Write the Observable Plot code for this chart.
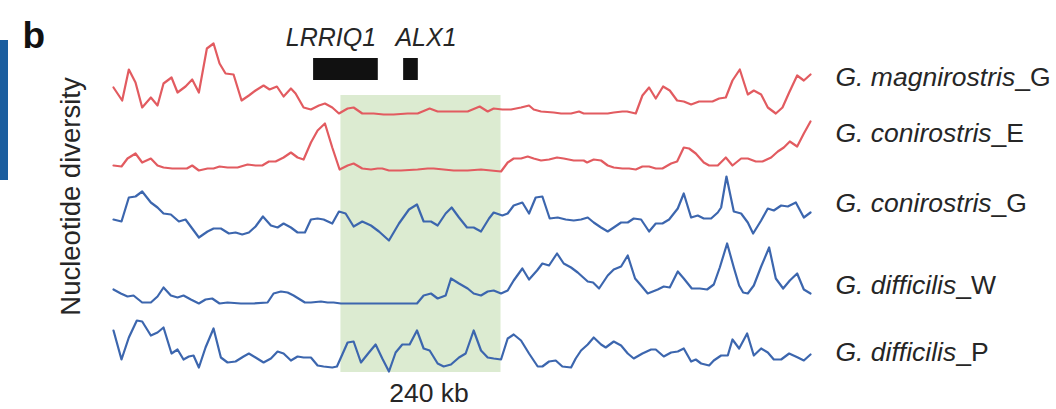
<!DOCTYPE html>
<html><head><meta charset="utf-8">
<script src="https://cdn.jsdelivr.net/npm/d3@7"></script>
<script src="https://cdn.jsdelivr.net/npm/@observablehq/plot@0.6"></script>
<style>
html,body{margin:0;padding:0;background:#fff;}
#wrap{position:relative;width:1056px;height:409px;overflow:hidden;background:#fff;}
#panelEdge{position:absolute;left:0;top:40px;width:8px;height:140px;background:#1b5e9f;}
</style></head><body>
<div id="wrap"><div id="panelEdge"></div></div>
<script>
// ---- data (position in kb, nucleotide diversity in relative units) ----
const seriesNames = ["G. magnirostris_G", "G. conirostris_E", "G. conirostris_G", "G. difficilis_W", "G. difficilis_P"];

const magX = [0,13,23,33,43,56,66,75,87,96,108,118,128,140,150,159,168,180,192,203,213,225,234,245,255,266,273,285,296,308,317,328,338,351,360,373,390,405,420,441,456,474,486,501,531,549,561,570,583,596,611,623,630,641,660,671,686,698,705,716,731,741,750,763,770,783,793,803,813,824,834,845,855,866,878,888,898,908,918,928,939,951,960,971,981,993,1003,1013,1025,1035,1045];
const magV = [28,15,46,33,8,18,10,32,38,23,29,36,23,67,72,52,42,41,15,20,25,30,26,29,19,27,22,8,6,10,12,8,2,7,8,2,2,1,1,2,2,7,4,4,4,9,4,7,6,6,8,10,6,4,3,2,2,4,2,2,2,2,3,4,4,2,20,28,17,29,25,15,14,11,14,14,14,17,18,35,46,21,25,21,8,2,8,23,40,35,41];

const conEX = [0,12,21,33,43,56,66,75,88,101,110,118,128,141,150,159,171,186,201,213,223,233,243,255,266,276,285,296,306,317,328,339,351,360,373,386,396,403,413,431,456,471,480,495,510,531,551,566,581,591,600,611,621,630,641,653,665,675,690,705,710,720,731,741,750,763,773,783,793,803,813,823,836,845,855,863,873,885,893,906,918,928,941,951,963,973,986,996,1005,1014,1025,1035,1045];
const conEV = [7,6,14,19,10,14,7,5,4,4,4,7,2,4,4,6,5,5,8,7,7,11,11,15,20,15,13,30,42,49,25,3,7,9,4,3,4,4,2,2,3,4,4,3,2,2,3,2,1,10,14,14,16,14,12,13,15,14,12,12,10,13,12,7,5,4,4,3,6,6,4,4,9,11,25,24,19,10,7,7,15,7,14,14,11,11,15,21,25,31,26,39,51];

const conGX = [0,12,23,33,43,56,66,75,86,98,108,118,128,141,150,161,173,183,193,203,213,224,236,246,255,266,276,287,296,306,315,328,338,348,360,373,386,398,413,428,443,455,465,476,486,498,507,518,530,540,551,563,570,583,591,600,613,623,633,643,654,666,678,690,701,711,720,731,741,750,761,771,780,791,803,813,823,833,846,855,866,876,885,896,906,911,919,930,941,951,959,971,981,990,1001,1011,1023,1035,1045];
const conGV = [23,21,45,46,51,40,35,29,28,21,23,14,5,11,14,14,9,10,8,10,16,26,17,15,19,15,10,10,23,24,23,19,31,29,16,21,17,11,2,19,33,38,21,21,17,29,35,25,15,15,11,24,30,27,29,37,40,29,45,46,24,25,23,22,23,25,20,15,11,15,20,20,24,23,11,19,19,23,34,49,25,27,24,24,30,35,66,31,29,20,9,22,34,32,37,36,40,25,30];

const difWX = [0,11,21,30,43,56,66,75,86,96,105,116,128,138,148,159,171,191,210,231,240,251,261,270,287,296,311,321,330,341,371,401,431,455,465,476,486,498,506,518,531,540,551,561,570,581,591,600,613,623,635,643,653,665,675,686,696,711,719,728,741,750,761,771,782,791,801,816,825,834,846,855,867,879,890,900,909,920,930,938,944,951,960,971,983,993,1004,1014,1025,1035,1045];
const difWV = [16,12,9,10,3,3,9,18,10,8,10,6,2,6,7,2,3,2,2,3,12,14,13,10,3,3,4,3,3,2,2,2,2,2,10,12,7,10,27,22,17,12,10,14,15,12,15,25,37,26,35,42,40,52,42,38,33,24,23,17,30,36,39,50,27,20,12,16,19,18,34,27,17,17,16,21,38,62,38,20,13,12,20,39,58,27,17,25,32,16,12];

const difPX = [0,12,23,35,43,56,66,75,87,96,105,113,120,128,138,150,161,171,183,195,203,213,225,236,246,255,266,276,285,296,306,315,328,335,341,351,360,371,383,393,403,413,423,433,444,455,465,474,486,495,506,518,528,540,551,561,570,581,591,600,611,623,636,643,653,663,673,686,693,701,711,720,731,738,750,761,771,780,793,806,813,825,836,846,855,866,873,881,893,900,911,921,928,938,950,960,971,981,990,1001,1013,1026,1035,1045];
const difPV = [42,13,35,52,51,37,40,45,19,23,13,16,17,5,25,44,15,10,11,16,19,15,10,14,21,19,12,16,15,15,7,6,5,6,15,30,31,10,20,28,14,1,20,28,28,42,24,22,9,6,8,15,19,42,22,15,14,13,34,38,32,19,6,6,11,12,6,5,14,22,28,35,28,25,31,27,19,14,19,23,23,16,20,21,24,11,13,9,7,12,17,17,33,24,39,17,24,20,13,13,19,15,12,18];

const geneNames = ["LRRIQ1", "ALX1"];
const geneStart = [300, 435];
const geneEnd = [397, 457];
const regionStart = 341, regionEnd = 581;
const regionLabel = "240 kb";
const yLabel = "Nucleotide diversity";
const panelLetter = "b";

// ---- layout / style ----
const offsets = [294, 237, 167, 104, 37];
const labelLift = [38, 39, 39, 20, 20];
const colors = ["#e25b60", "#e25b60", "#3c66ae", "#3c66ae", "#3c66ae"];
const textColor = "#262626";
const font = "'Liberation Sans', Arial, sans-serif";
const fs = 25;

const xsAll = [magX, conEX, conGX, difWX, difPX];
const vsAll = [magV, conEV, conGV, difWV, difPV];
const rows = seriesNames.map((name, i) => {
  const n = Math.min(xsAll[i].length, vsAll[i].length);
  return d3.range(n).map(j => ({series: name, kb: xsAll[i][j], y: offsets[i] + vsAll[i][j]}));
});
const lastKb = d3.max(xsAll.flat());
const labels = seriesNames.map((name, i) => ({name, kb: lastKb, y: offsets[i] + labelLift[i]}));
const genes = geneNames.map((g, i) => ({name: g, x1: geneStart[i], x2: geneEnd[i]}));

const plot = Plot.plot({
  width: 1056, height: 409,
  marginLeft: 113, marginRight: 246, marginTop: 0, marginBottom: 0,
  x: {domain: [0, lastKb], axis: null},
  y: {domain: [0, 409], axis: null},
  style: {fontFamily: font, background: "transparent", overflow: "visible"},
  marks: [
    Plot.rect([{x1: regionStart, x2: regionEnd}], {x1: "x1", x2: "x2", y1: 37, y2: 314, fill: "#dcebd1"}),
    ...rows.map((r, i) => Plot.line(r, {x: "kb", y: "y", stroke: colors[i], strokeWidth: 2.2, strokeLinejoin: "round", strokeLinecap: "round"})),
    Plot.rect(genes, {x1: "x1", x2: "x2", y1: 329, y2: 351, fill: "#111"}),
    Plot.text(genes, {x: d => (d.x1 + d.x2) / 2, y: 372, text: "name", fontSize: fs, fontStyle: "italic", fill: textColor}),
    Plot.text([regionLabel], {x: (regionStart + regionEnd) / 2, y: 16, text: d => d, dx: 8, fontSize: 26.5, fill: textColor}),
    Plot.text(labels, {x: "kb", y: "y", text: "name", dx: 25, textAnchor: "start", fontSize: 26.5, fill: textColor}),
    Plot.text([panelLetter], {x: 0, y: 373, text: d => d, dx: -91, textAnchor: "start", fontSize: 37, fontWeight: "bold", fill: "#111"}),
    Plot.text([yLabel], {x: 0, y: 213, text: d => d, dx: -42, rotate: -90, fontSize: 27.5, fill: textColor})
  ]
});

d3.select(plot).selectAll("text").each(function() {
  const t = this.textContent;
  if (t === geneNames[0]) this.setAttribute("transform", (this.getAttribute("transform") || "") + " translate(-15,0)");
  if (t === geneNames[1]) this.setAttribute("transform", (this.getAttribute("transform") || "") + " translate(15,0)");
  const m = t.match(/^(G\. \w+)(_\w)$/);
  if (m) {
    this.textContent = "";
    d3.select(this).append("tspan").attr("font-style", "italic").text(m[1]);
    d3.select(this).append("tspan").text(m[2]);
  }
});
document.getElementById("wrap").appendChild(plot);
</script>
</body></html>
